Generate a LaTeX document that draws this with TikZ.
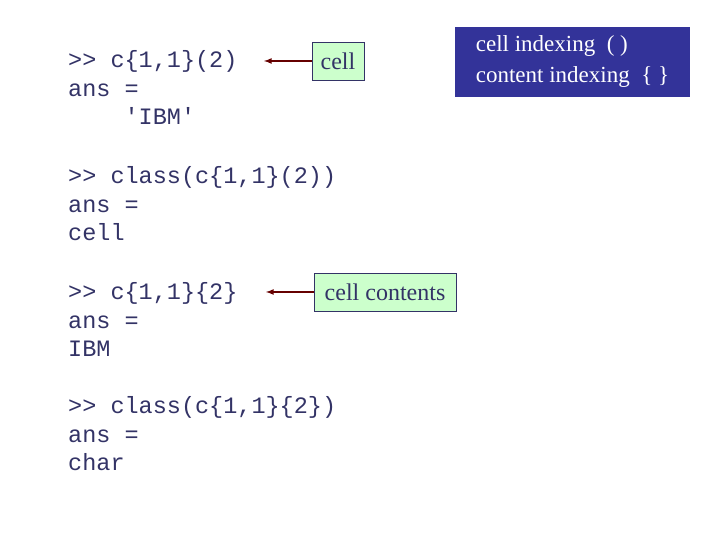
\documentclass[tikz,border=0pt]{standalone}
\usepackage{fontspec}
\setmainfont{Liberation Serif}
\setmonofont{Liberation Mono}
\begin{document}
\begin{tikzpicture}[x=1pt,y=1pt,
  code/.style={anchor=north west,align=left,inner sep=0pt,text=codec,font=\ttfamily\fontsize{23.5}{28.8}\selectfont},
  lbl/.style={draw=codec,fill=lgreen,text=codec,font=\fontsize{24}{28}\selectfont,inner sep=0pt,minimum height=38},
  arr/.style={draw=arrc,line width=1.6pt,-latex}]
\definecolor{codec}{HTML}{333366}
\definecolor{lgreen}{HTML}{CCFFCC}
\definecolor{arrc}{HTML}{660000}
\definecolor{bluebox}{HTML}{333399}
\useasboundingbox (0,0) rectangle (720,540);
\node[code] (c1) at (68,490) {>{}> c\{1,1\}(2)\\ans =\\\ \ \ \ 'IBM'};
\node[code] (c2) at (68,166+364-6-2+2) {};
\node[code] (c2) at (68,374) {>{}> class(c\{1,1\}(2))\\ans =\\cell};
\node[code] (c3) at (68,290+0) {};
\node[code] (c3b) at (68,258) {>{}> c\{1,1\}\{2\}\\ans =\\IBM};
\node[code] (c4) at (68,144) {>{}> class(c\{1,1\}\{2\})\\ans =\\char};
\node[lbl,minimum width=52] (l1) at (338,479) {cell};
\node[lbl,minimum width=142] (l2) at (385,248) {cell contents};
\coordinate (e1) at (264,479);
\coordinate (e2) at (266,248);
\draw[arr] (l1.west) -- (e1);
\draw[arr] (l2.west) -- (e2);
\node[fill=bluebox,text=white,minimum width=235,minimum height=70,align=left,inner sep=0pt,
  font=\fontsize{23}{31}\selectfont] (bb) at (572.5,478) {cell indexing\ \ ( )\\content indexing\ \ \{ \}};
\end{tikzpicture}
\end{document}
